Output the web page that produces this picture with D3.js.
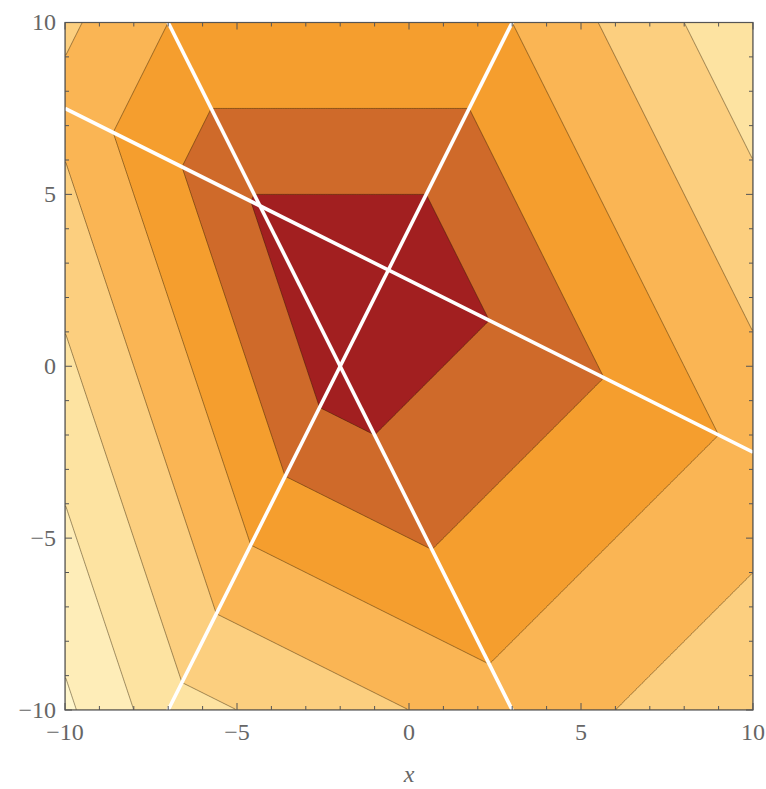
<!DOCTYPE html>
<html>
<head>
<meta charset="UTF-8">
<title></title>
<style type="text/css">
  body { margin: 0; background: #fff; }
  .chart text { font-family: "Liberation Serif", serif; fill: #666; font-size: 24px; }
</style>
</head>
<body>
<svg class="chart"></svg>

<script src="https://cdn.jsdelivr.net/npm/d3@7/dist/d3.min.js"></script>
<script type="text/javascript">
// three lines a*x + b*y + c = 0 (drawn white), f = sum |a x + b y + c| + linear part
var lineA = [1, 2, -5];
var lineB = [2, 1, 4];
var lineC = [2, -1, 4];
var linearPart = [-1, 0];
var contourLevels = [15, 25, 35, 45, 55, 65, 75];
var bandColors = ["#a21f20", "#cf6a2a", "#f59e2e", "#fab554", "#fccf7f", "#fde3a1", "#feedb8", "#fff6cc"];
var tickLabels = [-10, -5, 0, 5, 10];
var xDomain = [-10, 10];
var yDomain = [-10, 10];

var width = 766, height = 789;
var svg = d3.select(".chart").attr("width", width).attr("height", height);

var x = d3.scaleLinear().domain(xDomain).range([65, 753]);
var y = d3.scaleLinear().domain(yDomain).range([710, 22.5]);

var lines = [lineA, lineB, lineC];
function f(px, py) {
  var s = linearPart[0] * px + linearPart[1] * py;
  lines.forEach(function(l) { s += Math.abs(l[0] * px + l[1] * py + l[2]); });
  return s;
}

// sample on cell centres so contour coords map straight onto the domain
var n = 400;
var step = (xDomain[1] - xDomain[0]) / n;
var values = new Array(n * n);
for (var j = 0; j < n; j++) {
  for (var i = 0; i < n; i++) {
    values[j * n + i] = f(xDomain[0] + (i + 0.5) * step, yDomain[1] - (j + 0.5) * step);
  }
}
var contours = d3.contours().size([n, n]).thresholds(contourLevels)(values);

var proj = d3.geoTransform({
  point: function(cx, cy) {
    this.stream.point(x(xDomain[0] + cx * step), y(yDomain[1] - cy * step));
  }
});
var path = d3.geoPath(proj);

svg.append("defs").append("clipPath").attr("id", "plotclip")
  .append("rect")
  .attr("x", x(-10)).attr("y", y(10))
  .attr("width", x(10) - x(-10)).attr("height", y(-10) - y(10));

var g_plot = svg.append("g").attr("clip-path", "url(#plotclip)");

g_plot.append("rect")
  .attr("x", x(-10)).attr("y", y(10))
  .attr("width", x(10) - x(-10)).attr("height", y(-10) - y(10))
  .attr("fill", bandColors[0]);

g_plot.selectAll("path.band")
  .data(contours)
  .enter().append("path")
  .attr("class", "band")
  .attr("d", path)
  .attr("fill", function(d, k) { return bandColors[k + 1]; })
  .attr("stroke", "rgba(40,25,0,0.45)")
  .attr("stroke-width", 1);

// white lines
g_plot.selectAll("path.wline")
  .data(lines)
  .enter().append("path")
  .attr("class", "wline")
  .attr("d", function(l) {
    return d3.line()
      .x(function(p) { return x(p); })
      .y(function(p) { return y(-(l[0] * p + l[2]) / l[1]); })(xDomain);
  })
  .attr("fill", "none")
  .attr("stroke", "#fff")
  .attr("stroke-width", 3.6);

// frame
svg.append("rect")
  .attr("x", x(-10)).attr("y", y(10))
  .attr("width", x(10) - x(-10)).attr("height", y(-10) - y(10))
  .attr("fill", "none")
  .attr("stroke", "#555")
  .attr("stroke-width", 1.2);

var ticks = x.ticks(20);
var g_ticks = svg.append("g").attr("stroke", "#555").attr("stroke-width", 1);
ticks.forEach(function(t) {
  var len = tickLabels.indexOf(t) >= 0 ? 7 : 4;
  g_ticks.append("line").attr("x1", x(t)).attr("x2", x(t)).attr("y1", y(-10)).attr("y2", y(-10) - len);
  g_ticks.append("line").attr("x1", x(t)).attr("x2", x(t)).attr("y1", y(10)).attr("y2", y(10) + len);
  g_ticks.append("line").attr("y1", y(t)).attr("y2", y(t)).attr("x1", x(-10)).attr("x2", x(-10) + len);
  g_ticks.append("line").attr("y1", y(t)).attr("y2", y(t)).attr("x1", x(10)).attr("x2", x(10) - len);
});

function fmt(v) { return v < 0 ? "\u2212" + Math.abs(v) : String(v); }

svg.selectAll("text.xt")
  .data(tickLabels)
  .enter().append("text")
  .attr("class", "xt")
  .attr("x", function(d) { return x(d); })
  .attr("y", 740)
  .attr("text-anchor", "middle")
  .text(fmt);

svg.selectAll("text.yt")
  .data(tickLabels)
  .enter().append("text")
  .attr("class", "yt")
  .attr("x", 56)
  .attr("y", function(d) { return y(d); })
  .attr("dy", "0.33em")
  .attr("text-anchor", "end")
  .text(fmt);

svg.append("text")
  .attr("x", x(0))
  .attr("y", 782)
  .attr("text-anchor", "middle")
  .attr("font-style", "italic")
  .text("x");
</script>
</body>
</html>
